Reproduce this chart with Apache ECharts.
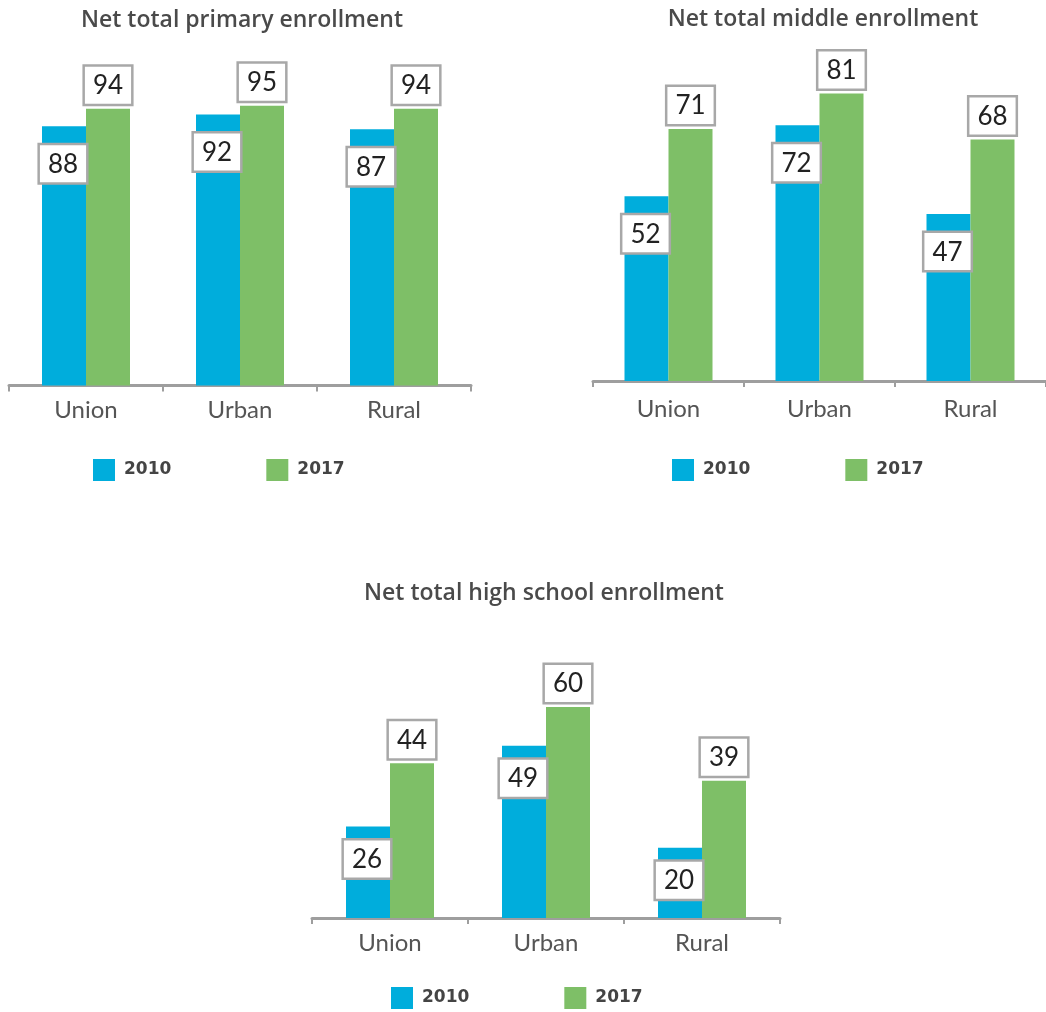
<!DOCTYPE html>
<html>
<head>
<meta charset="utf-8">
<script src="https://cdn.jsdelivr.net/npm/echarts@6/dist/echarts.min.js"></script>
<style>
html,body{margin:0;padding:0;background:#fff;}
#chart{width:1046px;height:1012px;}
</style>
</head>
<body>
<div id="chart"></div>
<script>
// ---- Data ----
const categories = ['Union', 'Urban', 'Rural'];
const seriesNames = ['2010', '2017'];
const titles = ['Net total primary enrollment', 'Net total middle enrollment', 'Net total high school enrollment'];
const primary2010 = [88, 92, 87];
const primary2017 = [94, 95, 94];
const middle2010 = [52, 72, 47];
const middle2017 = [71, 81, 68];
const high2010 = [26, 49, 20];
const high2017 = [44, 60, 39];

// ---- Layout / style ----
const BLUE = '#00ADDC';
const GREEN = '#7EBF67';
const panels = [
  { d2010: primary2010, d2017: primary2017, grid: { left: 9, top: 105.7, width: 462, height: 279.8 }, titleX: 242, titleY: 6, legend: { left: 93, top: 459 }, labelMargin: 13, blueDist: 19 },
  { d2010: middle2010, d2017: middle2017, grid: { left: 593, top: 93.4, width: 462, height: 287.6 }, titleX: 823, titleY: 5, legend: { left: 672, top: 459 }, labelMargin: 16, blueDist: 19 },
  { d2010: high2010, d2017: high2017, grid: { left: 312, top: 707, width: 468, height: 211 }, titleX: 544, titleY: 579, legend: { left: 391, top: 987 }, labelMargin: 13, blueDist: 14 }
];

const labelBox = {
  show: true,
  fontFamily: 'Lato',
  fontSize: 26,
  lineHeight: 26,
  color: '#222',
  backgroundColor: '#fff',
  borderColor: '#a8a8a8',
  borderWidth: 2.5,
  padding: [6, 8, 5, 8]
};

const option = {
  animation: false,
  backgroundColor: '#fff',
  title: [], grid: [], xAxis: [], yAxis: [], legend: [], series: []
};

panels.forEach((p, i) => {
  option.title.push({
    text: titles[i], left: p.titleX, top: p.titleY, textAlign: 'center', padding: 0,
    textStyle: { fontFamily: 'Open Sans', fontWeight: 600, fontSize: 23, lineHeight: 28, color: '#4a4a4a' }
  });
  option.grid.push(Object.assign({ containLabel: false }, p.grid));
  option.xAxis.push({
    type: 'category', gridIndex: i, data: categories,
    axisLine: { lineStyle: { color: '#9e9e9e', width: 3 } },
    axisTick: { show: true, length: 6, lineStyle: { color: '#9e9e9e', width: 2 } },
    axisLabel: { fontFamily: 'Lato', fontSize: 24, color: '#555', margin: p.labelMargin }
  });
  option.yAxis.push({
    type: 'value', gridIndex: i, min: 0, max: Math.max(...p.d2010, ...p.d2017),
    show: false, splitLine: { show: false }
  });
  option.legend.push({
    data: seriesNames, left: p.legend.left, top: p.legend.top, padding: 0,
    icon: 'rect', itemWidth: 22, itemHeight: 22, itemGap: 95,
    textStyle: { fontFamily: 'DejaVu Sans', fontWeight: 'bold', fontSize: 17, color: '#444', width: 48, padding: [4, 0, 0, 4] }
  });
  option.series.push({
    name: seriesNames[0], type: 'bar', xAxisIndex: i, yAxisIndex: i, data: p.d2010,
    barWidth: 44, barGap: '0%', itemStyle: { color: BLUE },
    label: Object.assign({}, labelBox, { position: 'insideTop', distance: p.blueDist, offset: [-1, 0] })
  });
  option.series.push({
    name: seriesNames[1], type: 'bar', xAxisIndex: i, yAxisIndex: i, data: p.d2017,
    barWidth: 44, barGap: '0%', itemStyle: { color: GREEN },
    label: Object.assign({}, labelBox, { position: 'top', distance: 5 })
  });
});

const chart = echarts.init(document.getElementById('chart'), null, { renderer: 'canvas' });
chart.setOption(option);
</script>
</body>
</html>
